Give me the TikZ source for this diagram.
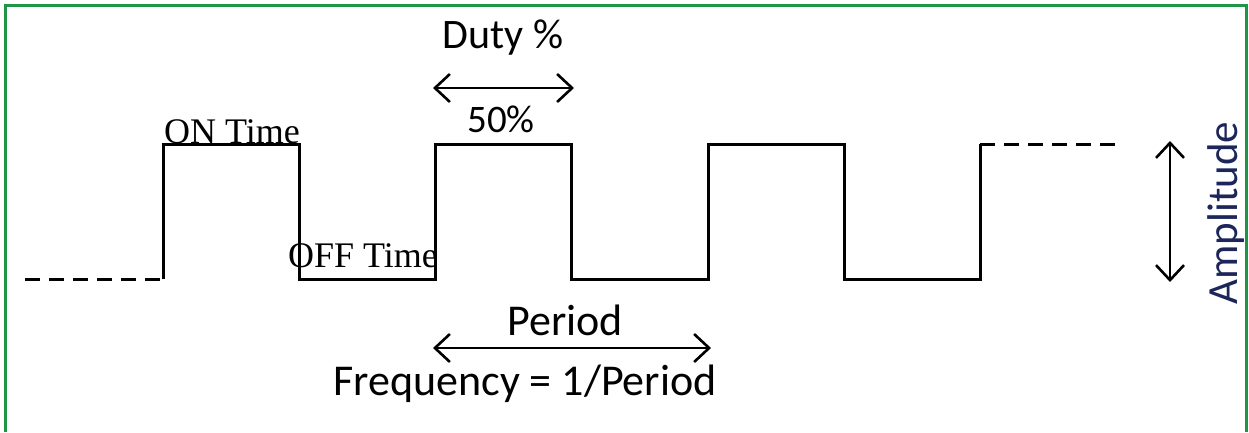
\documentclass[tikz,border=0pt]{standalone}
\usepackage{fontspec}
\setmainfont{Carlito}
\newfontfamily\timesfont{Liberation Serif}
\usetikzlibrary{arrows.meta}
\definecolor{framegreen}{RGB}{30,150,70}
\definecolor{ampblue}{RGB}{28,38,90}
\tikzset{
  wave/.style={line width=3pt, black, line join=miter},
  dashwave/.style={line width=3pt, black, dash pattern=on 15pt off 9pt},
  dimarrow/.style={line width=2.6pt, black, {Straight Barb[length=15pt,width=28pt]}-{Straight Barb[length=15pt,width=28pt]}},
  sanslabel/.style={inner sep=0pt},
  seriflabel/.style={inner sep=0pt, font=\timesfont\fontsize{36}{42}\selectfont},
}
\begin{document}
\begin{tikzpicture}[x=1pt,y=-1pt]
\useasboundingbox (0,0) rectangle (1249,432);
\fill[white] (0,0) rectangle (1249,432);
% frame
\draw[framegreen, line width=2.6pt] (5.5,432) -- (5.5,5.5) -- (1246.5,5.5) -- (1246.5,432);
% waveform coordinates
\coordinate (s0) at (25,279);
\coordinate (a0) at (163,279);
\coordinate (e0) at (1118,144);
\coordinate (a6) at (980,144);
\draw[dashwave] (s0) -- (a0);
\draw[dashwave] (a6) -- (e0);
\draw[wave] (163,279) -- (163,144) -- (299,144) -- (299,279) -- (435,279)
  -- (435,144) -- (571,144) -- (571,279) -- (708,279)
  -- (708,144) -- (844,144) -- (844,279) -- (980,279) -- (980,144);
% arrows
\coordinate (d1) at (433,88);
\coordinate (d2) at (574,88);
\draw[dimarrow] (d1) -- (d2);
\coordinate (p1) at (433,348);
\coordinate (p2) at (711,348);
\draw[dimarrow] (p1) -- (p2);
\coordinate (m1) at (1170,141);
\coordinate (m2) at (1170,282);
\draw[dimarrow] (m1) -- (m2);
% labels
\node[sanslabel, font=\fontsize{42}{48}\selectfont, anchor=base] (duty) at (503,48) {Duty \%};
\node[sanslabel, font=\fontsize{39}{45}\selectfont, anchor=base] (fifty) at (501,132) {50\%};
\node[seriflabel, anchor=base west] (on) at (164,143) {ON Time};
\node[seriflabel, anchor=base west] (off) at (288,267) {OFF Time};
\node[sanslabel, font=\fontsize{44}{50}\selectfont, anchor=base] (period) at (565,335) {Period};
\node[sanslabel, font=\fontsize{44}{50}\selectfont, anchor=base] (freq) at (525,395) {Frequency = 1/Period};
\node[sanslabel, font=\fontsize{43}{49}\selectfont, text=ampblue, rotate=90, anchor=base] (amp) at (1237,213) {Amplitude};
\end{tikzpicture}
\end{document}
